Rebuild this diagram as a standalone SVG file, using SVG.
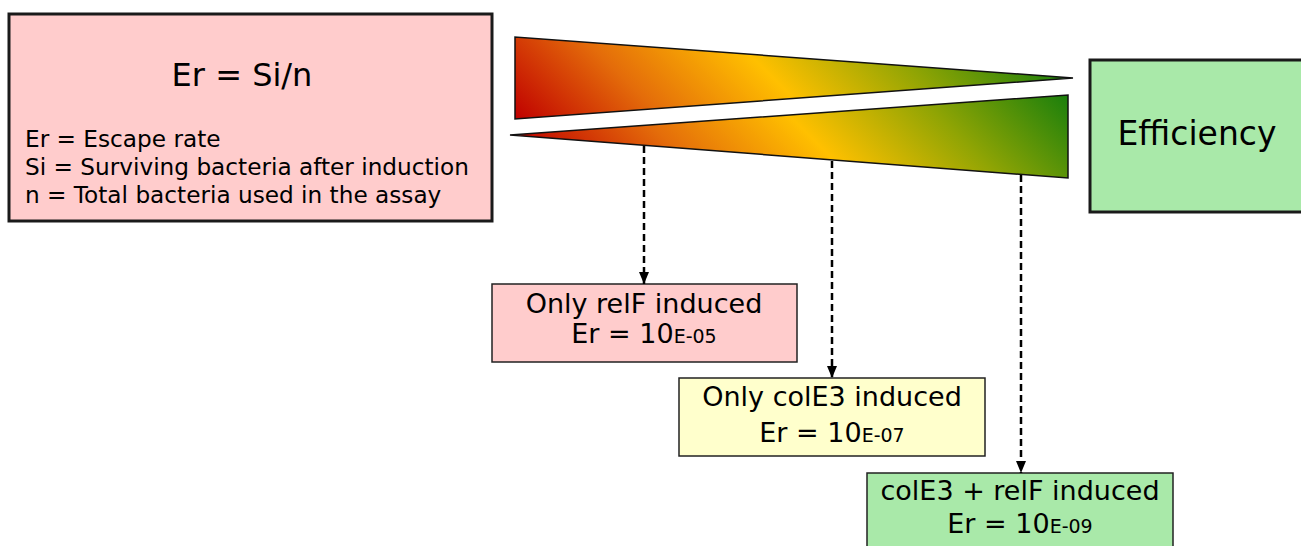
<svg xmlns="http://www.w3.org/2000/svg" width="1301" height="546" viewBox="0 0 1301 546">
  <style>
    text { font-family: "DejaVu Sans", "Noto Sans", sans-serif; fill: #000; }
    .thick { stroke: #1a1a1a; stroke-width: 3; }
    .thin { stroke: #222; stroke-width: 1.5; }
    .pink { fill: #ffcccc; }
    .yellow { fill: #ffffcc; }
    .green { fill: #a9e9a9; }
    .wedge { stroke: #111; stroke-width: 1.5; stroke-linejoin: miter; }
    .link { stroke: #000; stroke-width: 2.5; stroke-dasharray: 7 4; fill: none; }
    .big { font-size: 32px; }
    .mid { font-size: 27px; }
    .small { font-size: 23.2px; }
    .exp { font-size: 19px; }
  </style>
  <defs>
    <linearGradient id="gradTop" gradientUnits="userSpaceOnUse" x1="515" y1="119" x2="814" y2="-180">
      <stop offset="0" stop-color="#c00000"/>
      <stop offset="0.25" stop-color="#e46c0a"/>
      <stop offset="0.5" stop-color="#ffc000"/>
      <stop offset="0.75" stop-color="#8fa404"/>
      <stop offset="1" stop-color="#1a7f0c"/>
    </linearGradient>
    <linearGradient id="gradBottom" gradientUnits="userSpaceOnUse" x1="510" y1="135" x2="809" y2="-164">
      <stop offset="0" stop-color="#c00000"/>
      <stop offset="0.25" stop-color="#e46c0a"/>
      <stop offset="0.5" stop-color="#ffc000"/>
      <stop offset="0.75" stop-color="#8fa404"/>
      <stop offset="1" stop-color="#1a7f0c"/>
    </linearGradient>
    <marker id="arrow" viewBox="0 0 12 10" refX="12" refY="5" markerWidth="5" markerHeight="4.2" markerUnits="strokeWidth" orient="auto">
      <path d="M0,0 L12,5 L0,10 z" fill="#000"/>
    </marker>
  </defs>

  <!-- formula legend -->
  <g id="formula">
    <rect x="9" y="14" width="483" height="207" class="pink thick"/>
    <text x="242" y="86" text-anchor="middle" class="big">Er = Si/n</text>
    <text x="25" y="147" class="small">Er = Escape rate</text>
    <text x="25" y="175" class="small">Si = Surviving bacteria after induction</text>
    <text x="25" y="203" class="small">n = Total bacteria used in the assay</text>
  </g>

  <!-- opposing wedges: escape rate falls as efficiency rises -->
  <g id="wedges">
    <polygon points="515,37 515,119 1073,78" fill="url(#gradTop)" class="wedge"/>
    <polygon points="510,135 1068,95 1068,178" fill="url(#gradBottom)" class="wedge"/>
  </g>

  <g id="efficiency">
    <rect x="1090" y="60" width="215" height="152" class="green thick"/>
    <text x="1197" y="145" text-anchor="middle" style="font-size:33px">Efficiency</text>
  </g>

  <g id="relF">
    <rect x="492" y="284" width="305" height="78" class="pink thin"/>
    <text x="644" y="313" text-anchor="middle" class="mid">Only relF induced</text>
    <text x="644" y="343" text-anchor="middle" class="mid">Er = 10<tspan class="exp">E-05</tspan></text>
  </g>

  <g id="colE3">
    <rect x="679" y="378" width="306" height="78" class="yellow thin"/>
    <text x="832" y="406" text-anchor="middle" class="mid">Only colE3 induced</text>
    <text x="832" y="442" text-anchor="middle" class="mid">Er = 10<tspan class="exp">E-07</tspan></text>
  </g>

  <g id="combined">
    <rect x="867" y="473" width="306" height="80" class="green thin"/>
    <text x="1020" y="500" text-anchor="middle" class="mid">colE3 + relF induced</text>
    <text x="1020" y="533" text-anchor="middle" class="mid">Er = 10<tspan class="exp">E-09</tspan></text>
  </g>

  <g id="connectors">
    <line x1="644" y1="146" x2="644" y2="284" class="link" marker-end="url(#arrow)"/>
    <line x1="832" y1="161" x2="832" y2="378" class="link" marker-end="url(#arrow)"/>
    <line x1="1021" y1="175" x2="1021" y2="473" class="link" marker-end="url(#arrow)"/>
  </g>
</svg>
